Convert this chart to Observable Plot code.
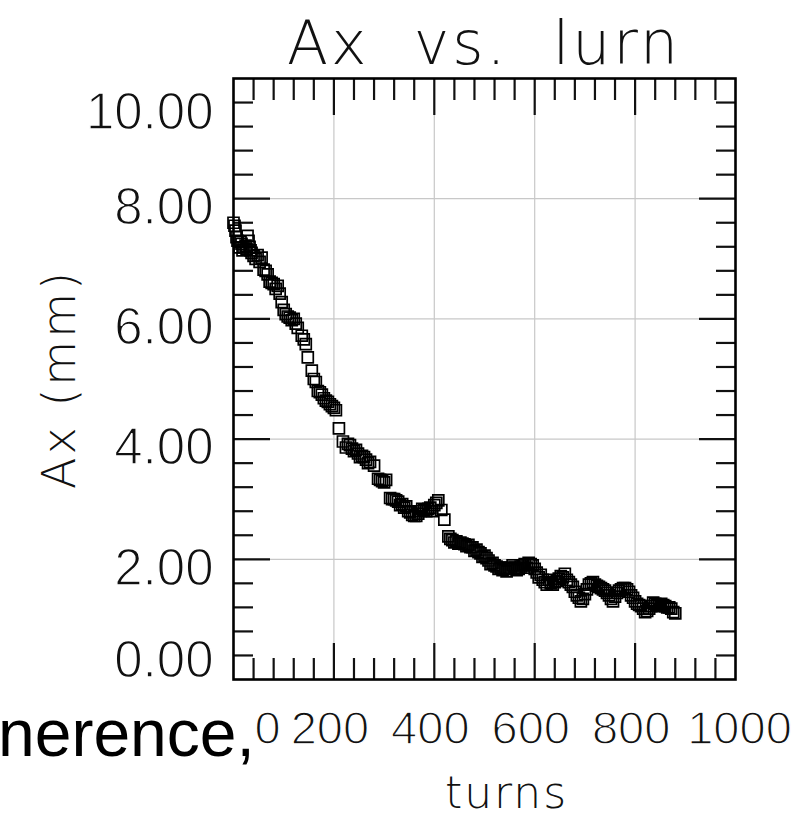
<!DOCTYPE html>
<html>
<head>
<meta charset="utf-8">
<script src="https://cdn.jsdelivr.net/npm/d3@7"></script>
<script src="https://cdn.jsdelivr.net/npm/@observablehq/plot@0.6"></script>
<style>
  html, body { margin: 0; padding: 0; background: #fff; }
  #wrap { position: relative; width: 809px; height: 817px; overflow: hidden; }
  #chart { position: absolute; left: 0; top: 0; }
  #title { position: absolute; left: 233px; width: 502px; top: 8px; text-align: center;
    font-family: "DejaVu Sans", sans-serif; font-weight: 200; font-size: 60px; line-height: 70px;
    white-space: pre; color: #111; letter-spacing: 3px; }
  #side { position: absolute; left: -2px; top: 693px; font-family: "Liberation Sans", Arial, sans-serif;
    font-size: 66px; line-height: 80px; color: #000; white-space: pre; }
</style>
</head>
<body>
<div id="wrap">
  <div id="chart"></div>
  <div id="title"></div>
  <div id="side"></div>
</div>
<script>
const titleText = "Ax  vs.  lurn";
const sideText = "nerence,";
const xLabel = "turns";
const yLabel = "Ax (mm)";

// main pass of points
const turns = [0,4,8,12,16,20,24,28,32,36,40,48,56,60,64,72,80,88,92,96,104,112,120,128,136,144,148,156,164,168,172,180,188,196,204,210,218,224,232,240,248,256,264,272,280,288,296,304,312,320,328,336,344,352,360,368,376,384,392,400,408,414,420,428,436,444,452,460,468,476,484,492,500,508,516,524,532,540,548,556,564,572,580,588,596,604,612,620,628,636,644,652,660,668,676,684,692,700,708,716,724,732,740,748,756,764,772,780,788,796,804,812,820,828,836,844,852,860,868,876];
const ax = [7.60,7.47,7.30,7.19,7.25,7.19,7.22,7.38,7.20,7.10,7.05,7.06,7.02,6.82,6.80,6.62,6.58,6.55,6.42,6.28,6.08,6.02,6.00,5.85,5.72,5.58,5.36,5.14,4.95,4.80,4.78,4.68,4.62,4.55,4.48,4.18,3.96,3.86,3.90,3.80,3.76,3.72,3.66,3.62,3.56,3.34,3.30,3.32,3.02,3.00,2.96,2.92,2.88,2.78,2.72,2.76,2.84,2.80,2.86,2.90,2.98,2.82,2.66,2.38,2.32,2.30,2.28,2.25,2.24,2.20,2.16,2.10,2.06,1.98,1.94,1.88,1.86,1.84,1.86,1.90,1.82,1.88,1.92,1.94,1.90,1.78,1.74,1.62,1.66,1.58,1.64,1.72,1.76,1.62,1.54,1.40,1.30,1.42,1.58,1.62,1.56,1.52,1.48,1.40,1.30,1.44,1.50,1.52,1.46,1.36,1.26,1.22,1.12,1.18,1.28,1.24,1.26,1.22,1.20,1.12];

// overlapping points seen in the dense band
const turns2 = [2,6,14,18,26,30,34,44,52,68,76,84,100,108,116,124,140,160,176,184,192,200,228,236,244,252,260,268,292,300,316,324,332,340,348,356,364,372,380,388,396,404,432,440,448,456,464,472,480,488,496,504,512,520,528,536,544,552,560,568,576,584,592,600,608,616,624,632,640,648,656,664,672,680,688,696,704,712,720,728,736,744,752,760,768,776,784,792,800,808,816,824,832,840,848,856,864,872,880];
const ax2 = [7.55,7.36,7.28,7.14,7.16,7.30,7.14,7.00,6.95,6.74,6.60,6.50,6.15,6.04,5.98,5.92,5.66,5.00,4.74,4.64,4.58,4.52,3.92,3.84,3.82,3.70,3.70,3.60,3.32,3.28,3.00,2.98,2.90,2.86,2.80,2.74,2.72,2.80,2.82,2.84,2.80,2.94,2.34,2.28,2.26,2.26,2.22,2.20,2.14,2.12,2.04,2.02,1.92,1.90,1.84,1.82,1.80,1.84,1.86,1.84,1.90,1.86,1.92,1.84,1.70,1.66,1.58,1.60,1.62,1.68,1.70,1.66,1.58,1.46,1.36,1.34,1.50,1.60,1.58,1.54,1.50,1.44,1.34,1.38,1.48,1.52,1.50,1.40,1.30,1.24,1.18,1.14,1.22,1.26,1.22,1.24,1.20,1.18,1.10];

const xTicks = [0, 200, 400, 600, 800, 1000];
const yTicks = [0, 2, 4, 6, 8, 10];

const data = turns.map((t, i) => ({turns: t, ax: ax[i]}))
  .concat(turns2.map((t, i) => ({turns: t, ax: ax2[i]})));

document.getElementById("title").textContent = titleText;
document.getElementById("side").textContent = sideText;

const xMinor = d3.range(40, 1000, 40).filter(v => v % 200 !== 0);
const yMinor = d3.range(1, 25).map(i => +(i * 0.4).toFixed(1)).filter((v, i) => (i + 1) % 5 !== 0);
const xMajorInner = xTicks.slice(1, -1);
const yMajorInner = yTicks.slice(1, -1);
const blank = () => "";
const fmtY = d3.format(".2f");
const fmtX = d => String(d);

const tickOpts = {tickFormat: blank, strokeWidth: 2.2, label: null};
const yFont = {fontSize: 51, fontFamily: "Liberation Sans, Arial, sans-serif", label: null};
const xFont = {fontSize: 47, fontFamily: "Liberation Sans, Arial, sans-serif", label: null, tickFormat: fmtX};

const chart = Plot.plot({
  width: 809,
  height: 817,
  marginLeft: 233,
  marginRight: 74,
  marginTop: 78,
  marginBottom: 138,
  style: {background: "transparent", color: "#111"},
  x: {domain: [0, 1000], axis: null},
  y: {domain: [0, 10], axis: null},
  marks: [
    Plot.gridX(xMajorInner, {stroke: "#c8c8c8", strokeOpacity: 1, strokeWidth: 1.2}),
    Plot.gridY(yMajorInner, {stroke: "#c8c8c8", strokeOpacity: 1, strokeWidth: 1.2}),
    // minor ticks on all four sides, pointing inward
    Plot.axisX(xMinor, {anchor: "bottom", tickSize: -21, ...tickOpts}),
    Plot.axisX(xMinor, {anchor: "top", tickSize: -21, ...tickOpts}),
    Plot.axisY(yMinor, {anchor: "left", tickSize: -20, ...tickOpts}),
    Plot.axisY(yMinor, {anchor: "right", tickSize: -20, ...tickOpts}),
    // major ticks
    Plot.axisX(xMajorInner, {anchor: "bottom", tickSize: -36, ...tickOpts}),
    Plot.axisX(xMajorInner, {anchor: "top", tickSize: -36, ...tickOpts}),
    Plot.axisY(yMajorInner, {anchor: "left", tickSize: -37, ...tickOpts}),
    Plot.axisY(yMajorInner, {anchor: "right", tickSize: -37, ...tickOpts}),
    // y tick labels
    Plot.axisY([yTicks[yTicks.length - 1]], {anchor: "left", tickSize: 0, tickPadding: 20, tickFormat: fmtY, dy: 34, ...yFont}),
    Plot.axisY(yMajorInner, {anchor: "left", tickSize: 0, tickPadding: 20, tickFormat: fmtY, dy: 9, ...yFont}),
    Plot.axisY([yTicks[0]], {anchor: "left", tickSize: 0, tickPadding: 20, tickFormat: fmtY, dy: -19, ...yFont}),
    // x tick labels
    Plot.axisX([xTicks[0]], {anchor: "bottom", tickSize: 0, tickPadding: 31, dx: 34, ...xFont}),
    Plot.axisX(xMajorInner, {anchor: "bottom", tickSize: 0, tickPadding: 31, dx: -4, ...xFont}),
    Plot.axisX([xTicks[xTicks.length - 1]], {anchor: "bottom", tickSize: 0, tickPadding: 31, dx: 4, ...xFont}),
    // axis titles
    Plot.text([xLabel], {frameAnchor: "bottom", dx: 22, dy: 114, lineAnchor: "middle", textAnchor: "middle", fontSize: 44, fontFamily: "DejaVu Sans, sans-serif", fontWeight: 200, fill: "#111"}),
    Plot.text([yLabel], {frameAnchor: "left", dx: -173, rotate: -90, lineAnchor: "middle", textAnchor: "middle", fontSize: 46, fontFamily: "DejaVu Sans, sans-serif", fontWeight: 200, fill: "#111"}),
    // data
    Plot.dot(data, {x: "turns", y: "ax", symbol: "square", r: 6.2, stroke: "#000", strokeWidth: 1.7, fill: "none"}),
    Plot.frame({stroke: "#000", strokeWidth: 2.6})
  ]
});
document.getElementById("chart").append(chart);

const svg = d3.select(chart);
svg.selectAll("text").filter(function() { return this.textContent === yLabel; })
  .style("letter-spacing", "3px");
svg.selectAll("text").filter(function() { return this.textContent === xLabel; })
  .style("letter-spacing", "2px");
// thin the sans glyphs a little, like the reference's stroked font
svg.selectAll('g[aria-label="y-axis tick label"] text, g[aria-label="x-axis tick label"] text')
  .style("stroke", "#fff").style("stroke-width", "1.4px").style("paint-order", "normal");
</script>
</body>
</html>
